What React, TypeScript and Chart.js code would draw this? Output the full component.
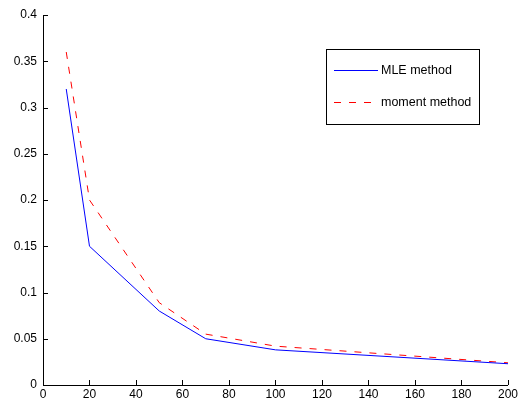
import React, { useEffect, useRef } from "react";
import { Chart, registerables } from "chart.js";

Chart.register(...registerables);

const xValues = [10, 20, 50, 70, 100, 200];
const mleValues = [0.32, 0.15, 0.08, 0.05, 0.038, 0.023];
const momentValues = [0.36, 0.2, 0.089, 0.055, 0.042, 0.024];
const seriesLabels = ["MLE method", "moment method"];
const seriesColors = ["#0000ff", "#ff0000"];
const seriesDashes: number[][] = [[], [7, 8]];
const xTicks = [0, 20, 40, 60, 80, 100, 120, 140, 160, 180, 200];
const yTicks = [0, 0.05, 0.1, 0.15, 0.2, 0.25, 0.3, 0.35, 0.4];

const FONT = "Liberation Sans, Arial, Helvetica, sans-serif";

const innerTicks = {
  id: "innerTicks",
  afterDraw(chart: any) {
    const ctx = chart.ctx;
    const xs = chart.scales.x;
    const ys = chart.scales.y;
    const area = chart.chartArea;
    ctx.save();
    ctx.strokeStyle = "#000";
    ctx.lineWidth = 1;
    ctx.beginPath();
    xTicks.forEach((v) => {
      const px = Math.round(xs.getPixelForValue(v)) + 0.5;
      ctx.moveTo(px, area.bottom);
      ctx.lineTo(px, area.bottom - 5);
    });
    yTicks.forEach((v) => {
      const py = Math.round(ys.getPixelForValue(v)) + 0.5;
      ctx.moveTo(area.left, py);
      ctx.lineTo(area.left + 5, py);
    });
    ctx.stroke();
    ctx.restore();
  },
};

const boxLegend = {
  id: "boxLegend",
  afterDraw(chart: any) {
    const ctx = chart.ctx;
    ctx.save();
    const bx = 326.5, by = 49.5, bw = 153, bh = 75;
    ctx.fillStyle = "#fff";
    ctx.fillRect(bx, by, bw, bh);
    ctx.strokeStyle = "#000";
    ctx.lineWidth = 1;
    ctx.strokeRect(bx, by, bw, bh);
    const rows = [70, 102];
    seriesLabels.forEach((label, i) => {
      ctx.fillStyle = seriesColors[i];
      const dash = seriesDashes[i];
      const x0 = 334, x1 = 378;
      if (dash.length === 0) {
        ctx.fillRect(x0, rows[i], x1 - x0, 1);
      } else {
        let x = x0;
        while (x < x1) {
          const w = Math.min(dash[0], x1 - x);
          ctx.fillRect(x, rows[i], w, 1);
          x += dash[0] + dash[1];
        }
      }
      ctx.fillStyle = "#000";
      ctx.font = `12.5px ${FONT}`;
      ctx.textBaseline = "middle";
      ctx.textAlign = "left";
      ctx.fillText(label, 381, rows[i] + 1);
    });
    ctx.restore();
  },
};

export default function App() {
  const ref = useRef<HTMLCanvasElement>(null);
  useEffect(() => {
    if (!ref.current) return;
    const chart = new Chart(ref.current, {
      type: "line",
      data: {
        datasets: [
          {
            label: seriesLabels[0],
            data: xValues.map((x, i) => ({ x, y: mleValues[i] })),
            borderColor: seriesColors[0],
            borderWidth: 1,
            borderDash: seriesDashes[0],
            pointRadius: 0,
            tension: 0,
            fill: false,
          },
          {
            label: seriesLabels[1],
            data: xValues.map((x, i) => ({ x, y: momentValues[i] })),
            borderColor: seriesColors[1],
            borderWidth: 1,
            borderDash: seriesDashes[1],
            pointRadius: 0,
            tension: 0,
            fill: false,
          },
        ],
      },
      options: {
        animation: false,
        responsive: false,
        maintainAspectRatio: false,
        layout: { padding: { top: 15, right: 10, left: 0, bottom: 0 } },
        plugins: { legend: { display: false }, tooltip: { enabled: false } },
        scales: {
          x: {
            type: "linear",
            min: 0,
            max: 200,
            afterFit: (s: any) => { s.height = 17; },
            afterBuildTicks: (s: any) => { s.ticks = xTicks.map((v) => ({ value: v })); },
            ticks: { color: "#000", font: { family: FONT, size: 12 }, padding: 2, maxRotation: 0, autoSkip: false },
            grid: { display: true, drawOnChartArea: false, drawTicks: false },
            border: { display: true, color: "#000", width: 1 },
          },
          y: {
            type: "linear",
            min: 0,
            max: 0.4,
            afterFit: (s: any) => { s.width = 43; },
            afterBuildTicks: (s: any) => { s.ticks = yTicks.map((v) => ({ value: v })); },
            ticks: {
              color: "#000",
              font: { family: FONT, size: 12 },
              padding: 6,
              autoSkip: false,
              callback: (v: any) => String(Math.round(Number(v) * 100) / 100),
            },
            grid: { display: true, drawOnChartArea: false, drawTicks: false },
            border: { display: true, color: "#000", width: 1 },
          },
        },
      },
      plugins: [innerTicks, boxLegend],
    });
    return () => chart.destroy();
  }, []);
  return (
    <div style={{ position: "fixed", left: 0, top: 0, width: 520, height: 402, background: "#fff" }}>
      <canvas ref={ref} width={520} height={402} style={{ width: 520, height: 402 }} />
    </div>
  );
}
